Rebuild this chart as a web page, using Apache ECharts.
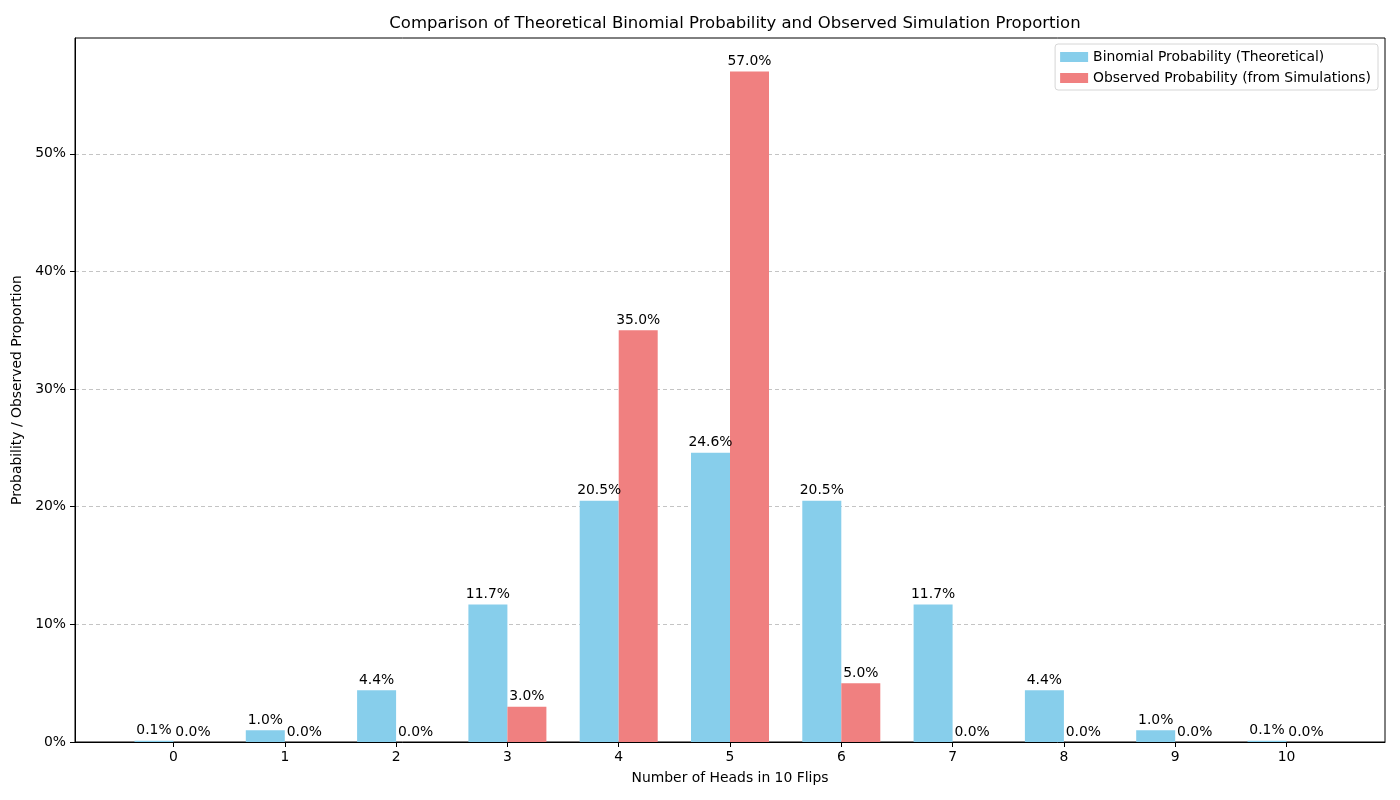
<!DOCTYPE html>
<html>
<head>
<meta charset="utf-8">
<script src="https://cdn.jsdelivr.net/npm/echarts@6/dist/echarts.min.js"></script>
<style>
  html, body { margin: 0; padding: 0; background: #fff; }
  #chart { width: 1400px; height: 800px; }
</style>
</head>
<body>
<div id="chart"></div>
<script>
// number of heads in 10 flips
var heads = [0, 1, 2, 3, 4, 5, 6, 7, 8, 9, 10];
// theoretical binomial probability (%)
var binomial = [0.1, 1.0, 4.4, 11.7, 20.5, 24.6, 20.5, 11.7, 4.4, 1.0, 0.1];
// observed proportion from simulations (%)
var observed = [0.0, 0.0, 0.0, 3.0, 35.0, 57.0, 5.0, 0.0, 0.0, 0.0, 0.0];
var yTicks = [0, 10, 20, 30, 40, 50];

function pairs(vals) {
    return heads.map(function (h, i) { return [h, vals[i]]; });
}

var font = 'DejaVu Sans';
var myChart = echarts.init(document.getElementById('chart'));

var labelStyle = {
    show: true,
    position: 'top',
    distance: 3,
    color: '#000',
    fontFamily: font,
    fontSize: 13.9,
    formatter: function (p) { return p.value[1].toFixed(1) + '%'; }
};

var option = {
    animation: false,
    textStyle: { fontFamily: font },
    title: {
        text: 'Comparison of Theoretical Binomial Probability and Observed Simulation Proportion',
        left: 730,
        textAlign: 'center',
        top: 10,
        textStyle: { fontFamily: font, fontSize: 16.5, fontWeight: 'normal', color: '#000' }
    },
    legend: {
        orient: 'vertical',
        right: 22,
        top: 44,
        icon: 'rect',
        itemWidth: 28,
        itemHeight: 10,
        itemGap: 7,
        padding: [6, 7, 5, 5],
        borderColor: '#d6d6d6',
        borderWidth: 1,
        borderRadius: 3,
        backgroundColor: 'rgba(255,255,255,0.8)',
        textStyle: { fontFamily: font, fontSize: 13.9, color: '#000' },
        data: ['Binomial Probability (Theoretical)', 'Observed Probability (from Simulations)']
    },
    grid: {
        left: 75,
        right: 15,
        top: 38,
        bottom: 58,
        show: true,
        borderColor: '#000',
        borderWidth: 1,
        containLabel: false
    },
    xAxis: {
        type: 'value',
        min: -0.885,
        max: 10.885,
        name: 'Number of Heads in 10 Flips',
        nameLocation: 'middle',
        nameGap: 29,
        nameTextStyle: { fontFamily: font, fontSize: 13.9, color: '#000' },
        axisLine: { show: true, onZero: false, lineStyle: { color: '#000', width: 1 } },
        axisTick: { show: true, length: 5, customValues: heads, lineStyle: { color: '#000' } },
        axisLabel: { customValues: heads, color: '#000', fontSize: 13.9, margin: 8 },
        splitLine: { show: false }
    },
    yAxis: {
        type: 'value',
        min: 0,
        max: 59.85,
        name: 'Probability / Observed Proportion',
        nameLocation: 'middle',
        nameGap: 48,
        nameTextStyle: { fontFamily: font, fontSize: 13.9, color: '#000' },
        axisLine: { show: true, onZero: false, lineStyle: { color: '#000', width: 1 } },
        axisTick: { show: true, length: 5, customValues: yTicks, lineStyle: { color: '#000' } },
        axisLabel: {
            customValues: yTicks,
            color: '#000',
            fontSize: 13.9,
            margin: 9,
            formatter: '{value}%'
        },
        splitLine: {
            show: true,
            lineStyle: { color: '#c4c4c4', type: [4, 3], width: 1 }
        }
    },
    series: [{
        name: 'Binomial Probability (Theoretical)',
        type: 'bar',
        barWidth: 39,
        barGap: '0%',
        itemStyle: { color: '#87CEEB', borderWidth: 0 },
        label: labelStyle,
        data: pairs(binomial)
    }, {
        name: 'Observed Probability (from Simulations)',
        type: 'bar',
        barWidth: 39,
        barGap: '0%',
        itemStyle: { color: '#F08080', borderWidth: 0 },
        label: labelStyle,
        data: pairs(observed)
    }]
};

myChart.setOption(option);
</script>
</body>
</html>
